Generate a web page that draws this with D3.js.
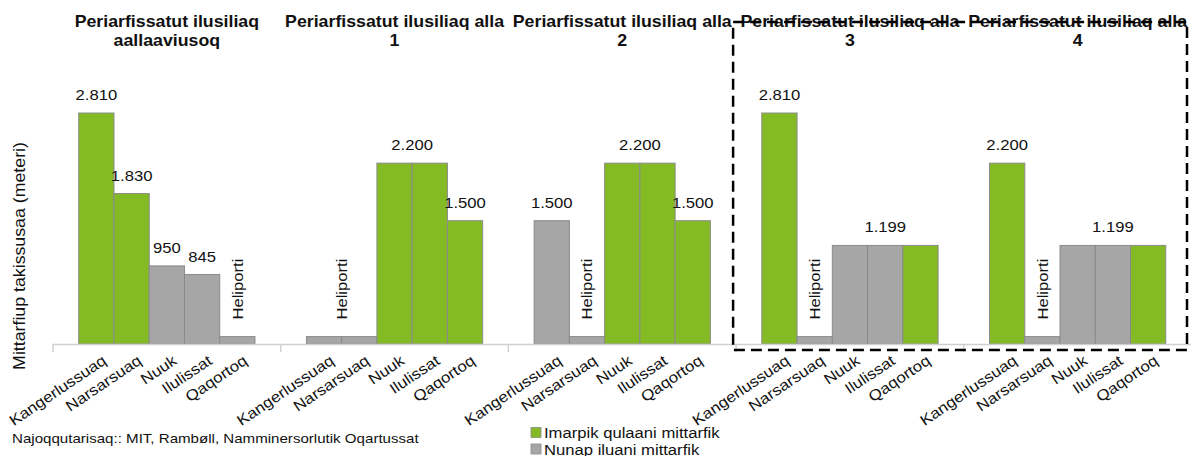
<!DOCTYPE html>
<html>
<head>
<meta charset="utf-8">
<script src="https://cdn.jsdelivr.net/npm/d3@7"></script>
<style>
  body { margin: 0; background: #fff; }
  text { font-family: "Liberation Sans", Arial, sans-serif; fill: #111; }
</style>
</head>
<body>
<div id="chart"></div>
<script>
// titles of the five alternatives (two lines each)
var titleTop = ["Periarfissatut ilusiliaq", "Periarfissatut ilusiliaq alla", "Periarfissatut ilusiliaq alla",
                "Periarfissatut ilusiliaq alla", "Periarfissatut ilusiliaq alla"];
var titleBottom = ["aallaaviusoq", "1", "2", "3", "4"];

var airports = ["Kangerlussuaq", "Narsarsuaq", "Nuuk", "Ilulissat", "Qaqortoq"];

// runway length (m) per alternative, same order as airports
var lengths = [
  [2810, 1830, 950, 845, 90],
  [90, 90, 2200, 2200, 1500],
  [1500, 90, 2200, 2200, 1500],
  [2810, 90, 1199, 1199, 1199],
  [2200, 90, 1199, 1199, 1199]
];
// I = imarpik qulaani, N = nunap iluani, H = heliporti
var kinds = [
  ["I", "I", "N", "N", "H"],
  ["H", "H", "I", "I", "I"],
  ["N", "H", "I", "I", "I"],
  ["I", "H", "N", "N", "I"],
  ["I", "H", "N", "N", "I"]
];

var legendLabels = ["Imarpik qulaani mittarfik", "Nunap iluani mittarfik"];
var yTitle = "Mittarfiup  takissusaa (meteri)";
var source = "Najoqqutarisaq:: MIT, Rambøll, Namminersorlutik Oqartussat";
var heliText = "Heliporti";

var width = 1191, height = 456;
var green = "#84bb25", grey = "#a6a6a6";
var sx = 1.11; // text looks a bit wide in the original

var svg = d3.select("#chart").append("svg")
    .attr("width", width)
    .attr("height", height);

var groupIds = d3.range(titleTop.length);

var x0 = d3.scaleBand().domain(groupIds).range([53, 1191.5]);
var x1 = d3.scaleBand().domain(airports).range([0, x0.bandwidth()]).paddingOuter(0.73);
var y = d3.scaleLinear().domain([0, 3000]).range([344, 97.4]);

var fmt = d3.formatLocale({decimal: ",", thousands: ".", grouping: [3], currency: ["", ""]}).format(",d");

function colorOf(k) { return k == "I" ? green : grey; }

// bars
var groups = svg.selectAll(".grp")
    .data(groupIds)
    .enter()
    .append("g")
    .attr("class", "grp")
    .attr("transform", function(g){ return "translate(" + x0(g) + ",0)"; });

groups.selectAll("rect")
    .data(function(g){ return airports.map(function(a, i){ return {a: a, v: lengths[g][i], k: kinds[g][i]}; }); })
    .enter()
    .append("rect")
    .attr("x", function(d){ return x1(d.a); })
    .attr("y", function(d){ return y(d.v); })
    .attr("width", x1.bandwidth())
    .attr("height", function(d){ return y(0) - y(d.v); })
    .attr("fill", function(d){ return colorOf(d.k); })
    .attr("stroke", "#8a8a8a")
    .attr("stroke-width", 1);

// axis line + ticks between the groups
svg.append("line")
    .attr("x1", x0.range()[0]).attr("x2", width)
    .attr("y1", y(0) + 0.5).attr("y2", y(0) + 0.5)
    .attr("stroke", "#d0d0d0").attr("stroke-width", 1.5);

svg.selectAll(".tick")
    .data(groupIds)
    .enter()
    .append("line")
    .attr("x1", function(g){ return x0(g); })
    .attr("x2", function(g){ return x0(g); })
    .attr("y1", y(0)).attr("y2", y(0) + 8)
    .attr("stroke", "#d0d0d0").attr("stroke-width", 1.5);

// value labels: one per run of equal values
groupIds.forEach(function(g){
  var vals = lengths[g];
  var i = 0;
  while (i < vals.length) {
    var j = i;
    while (j + 1 < vals.length && vals[j + 1] == vals[i]) j++;
    var cx = x0(g) + (x1(airports[i]) + x1(airports[j]) + x1.bandwidth()) / 2;
    var top = y(vals[i]);
    if (kinds[g][i] == "H") {
      svg.append("text")
        .attr("transform", "translate(" + cx + "," + (top - 17) + ") rotate(-90) scale(" + sx + ",1)")
        .attr("dy", "0.35em")
        .attr("text-anchor", "start")
        .style("font-size", "15px")
        .text(heliText);
    } else {
      svg.append("text")
        .attr("transform", "translate(" + cx + "," + (top - 13) + ") scale(" + sx + ",1)")
        .attr("text-anchor", "middle")
        .style("font-size", "15px")
        .text(fmt(vals[i]));
    }
    i = j + 1;
  }
});

// category labels
groups.selectAll(".cat")
    .data(airports)
    .enter()
    .append("text")
    .attr("class", "cat")
    .attr("transform", function(a){ return "translate(" + (x1(a) + x1.bandwidth() / 2 + 11) + ",363) rotate(-34) scale(1.13,1)"; })
    .attr("text-anchor", "end")
    .style("font-size", "15px")
    .text(function(a){ return a; });

// titles
groups.append("text")
    .attr("transform", "translate(" + x0.bandwidth() / 2 + ",27) scale(" + sx + ",1)")
    .attr("text-anchor", "middle")
    .style("font-size", "16px")
    .style("font-weight", "bold")
    .text(function(g){ return titleTop[g]; });

groups.append("text")
    .attr("transform", "translate(" + x0.bandwidth() / 2 + ",46) scale(" + sx + ",1)")
    .attr("text-anchor", "middle")
    .style("font-size", "16px")
    .style("font-weight", "bold")
    .text(function(g){ return titleBottom[g]; });

// dashed box around the last two alternatives
svg.append("rect")
    .attr("x", x0(3) - 3)
    .attr("y", 22)
    .attr("width", width - 4 - (x0(3) - 3))
    .attr("height", 350 - 22)
    .attr("fill", "none")
    .attr("stroke", "#000")
    .attr("stroke-width", 2.5)
    .attr("stroke-dasharray", "11,6");

// y title
svg.append("text")
    .attr("transform", "translate(25,256) rotate(-90) scale(" + sx + ",1)")
    .attr("text-anchor", "middle")
    .style("font-size", "16px")
    .text(yTitle);

// source
svg.append("text")
    .attr("transform", "translate(12,443) scale(" + sx + ",1)")
    .style("font-size", "13.6px")
    .text(source);

// legend
var leg = svg.selectAll(".leg")
    .data(legendLabels)
    .enter()
    .append("g")
    .attr("class", "leg")
    .attr("transform", function(d, i){ return "translate(531," + (427.5 + i * 16.5) + ")"; });

leg.append("rect")
    .attr("width", 10).attr("height", 10)
    .attr("fill", function(d, i){ return i == 0 ? green : grey; })
    .attr("stroke", "#8a8a8a").attr("stroke-width", 0.8);

leg.append("text")
    .attr("transform", "translate(13,10.5) scale(" + sx + ",1)")
    .style("font-size", "15px")
    .text(function(d){ return d; });
</script>
</body>
</html>
